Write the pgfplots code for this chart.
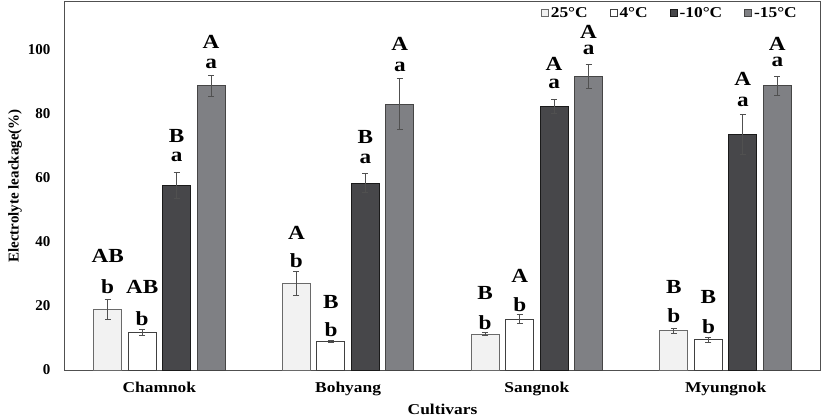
\documentclass[border=0pt]{standalone}
\usepackage{pgfplots}
\pgfplotsset{compat=1.18}
\usepackage{pgfplotstable}
\usepackage{fontspec}
\setmainfont{Liberation Serif}
\newfontfamily\wf[FakeStretch=1.16]{Liberation Serif}
\definecolor{cA}{HTML}{F2F2F2}
\definecolor{cAd}{HTML}{6A6A6A}
\definecolor{cB}{HTML}{FFFFFF}
\definecolor{cBd}{HTML}{404040}
\definecolor{cC}{HTML}{47474A}
\definecolor{cCd}{HTML}{1A1A1A}
\definecolor{cD}{HTML}{7F8084}
\definecolor{cDd}{HTML}{454545}
\definecolor{ax}{HTML}{505050}
\definecolor{eb}{HTML}{505050}
\pgfplotstableread{
x y e
-0.274 19.0 3.1
0.726 27.0 3.7
1.726 11.25 0.4
2.726 12.2 0.9
}\tA
\pgfplotstableread{
x y e
-0.091 11.7 1.0
0.909 8.85 0.3
1.909 15.9 1.4
2.909 9.4 0.7
}\tB
\pgfplotstableread{
x y e
0.091 57.6 4.0
1.091 58.4 3.0
2.091 82.2 2.2
3.091 73.6 6.2
}\tC
\pgfplotstableread{
x y e
0.274 88.75 3.4
1.274 83.0 8.0
2.274 91.8 3.8
3.274 88.75 3.0
}\tD
\newcommand{\lf}{\wf\fontsize{20}{20}\selectfont\bfseries}
\tikzset{lab/.style={font=\lf, inner sep=0pt}}
\begin{document}
\begin{tikzpicture}
\begin{axis}[
  scale only axis, width=755pt, height=368pt,
  xmin=-0.5, xmax=3.5, ymin=0, ymax=115,
  axis line style={ax, line width=1pt},
  xtick={0,1,2,3},
  xticklabels={Chamnok,Bohyang,Sangnok,Myungnok},
  minor xtick={0.5,1.5,2.5},
  major tick length=0pt,
  minor tick length=5pt,
  tick align=inside,
  minor tick style={ax, line width=0.8pt},
  ytick={0,20,40,60,80,100},
  ytick style={draw=none},
  xtick style={draw=none},
  /pgf/number format/assume math mode=true,
  yticklabel style={font=\fontsize{15}{15}\selectfont\bfseries, xshift=-11pt},
  xticklabel style={font=\wf\fontsize{15}{15}\selectfont\bfseries, yshift=-9pt},
  xlabel={Cultivars},
  ylabel={Electrolyte leackage(\%)},
  xlabel style={font=\wf\fontsize{15}{15}\selectfont\bfseries, at={(axis description cs:0.5,0)}, anchor=center, yshift=-39pt},
  ylabel style={font=\fontsize{15}{15}\selectfont\bfseries, at={(axis description cs:-0.0662,0.5)}, anchor=center},
  legend columns=4,
  legend style={at={(axis description cs:1,1)}, anchor=north east, xshift=-18pt, yshift=-1pt, draw=none, fill=none,
    font=\wf\fontsize{15}{15}\selectfont\bfseries, /tikz/every even column/.append style={column sep=20pt}},
  legend image code/.code={\draw[#1, line width=0.8pt] (0pt,-3.5pt) rectangle (7pt,3.5pt);},
  error bars/error bar style={eb, line width=1pt},
  error bars/error mark options={eb, rotate=90, mark size=3pt, line width=1pt},
]
\addplot[ybar, bar width=0.148, bar shift=0, fill=cA, draw=cAd, line width=1pt,
  error bars/.cd, y dir=both, y explicit] table[x=x, y=y, y error=e]{\tA};
\addlegendentry{25°C}
\addplot[ybar, bar width=0.148, bar shift=0, fill=cB, draw=cBd, line width=1pt,
  error bars/.cd, y dir=both, y explicit] table[x=x, y=y, y error=e]{\tB};
\addlegendentry{4°C}
\addplot[ybar, bar width=0.148, bar shift=0, fill=cC, draw=cCd, line width=1pt,
  error bars/.cd, y dir=both, y explicit] table[x=x, y=y, y error=e]{\tC};
\addlegendentry{-10°C}
\addplot[ybar, bar width=0.148, bar shift=0, fill=cD, draw=cDd, line width=1pt,
  error bars/.cd, y dir=both, y explicit] table[x=x, y=y, y error=e]{\tD};
\addlegendentry{-15°C}
% Chamnok
\node[lab] at (axis cs:-0.274,35.6) {AB};
\node[lab] at (axis cs:-0.274,25.9) {b};
\node[lab] at (axis cs:-0.091,25.9) {AB};
\node[lab] at (axis cs:-0.091,16.2) {b};
\node[lab] at (axis cs:0.091,73.1) {B};
\node[lab] at (axis cs:0.091,66.5) {a};
\node[lab] at (axis cs:0.274,102.5) {A};
\node[lab] at (axis cs:0.274,95.8) {a};
% Bohyang
\node[lab] at (axis cs:0.726,43.0) {A};
\node[lab] at (axis cs:0.726,34.2) {b};
\node[lab] at (axis cs:0.909,21.3) {B};
\node[lab] at (axis cs:0.909,12.5) {b};
\node[lab] at (axis cs:1.091,72.9) {B};
\node[lab] at (axis cs:1.091,66.1) {a};
\node[lab] at (axis cs:1.274,101.9) {A};
\node[lab] at (axis cs:1.274,94.8) {a};
% Sangnok
\node[lab] at (axis cs:1.726,24.0) {B};
\node[lab] at (axis cs:1.726,14.8) {b};
\node[lab] at (axis cs:1.909,29.4) {A};
\node[lab] at (axis cs:1.909,20.3) {b};
\node[lab] at (axis cs:2.091,95.8) {A};
\node[lab] at (axis cs:2.091,89.4) {a};
\node[lab] at (axis cs:2.274,105.6) {A};
\node[lab] at (axis cs:2.274,100.0) {a};
% Myungnok
\node[lab] at (axis cs:2.726,26.0) {B};
\node[lab] at (axis cs:2.726,17.0) {b};
\node[lab] at (axis cs:2.909,22.9) {B};
\node[lab] at (axis cs:2.909,13.5) {b};
\node[lab] at (axis cs:3.091,91.1) {A};
\node[lab] at (axis cs:3.091,83.75) {a};
\node[lab] at (axis cs:3.274,101.9) {A};
\node[lab] at (axis cs:3.274,96.25) {a};
\end{axis}
\pgfresetboundingbox
\path ([xshift=-65pt,yshift=2pt]current axis.north west) rectangle ([xshift=7pt,yshift=-48pt]current axis.south east);
\end{tikzpicture}
\end{document}
